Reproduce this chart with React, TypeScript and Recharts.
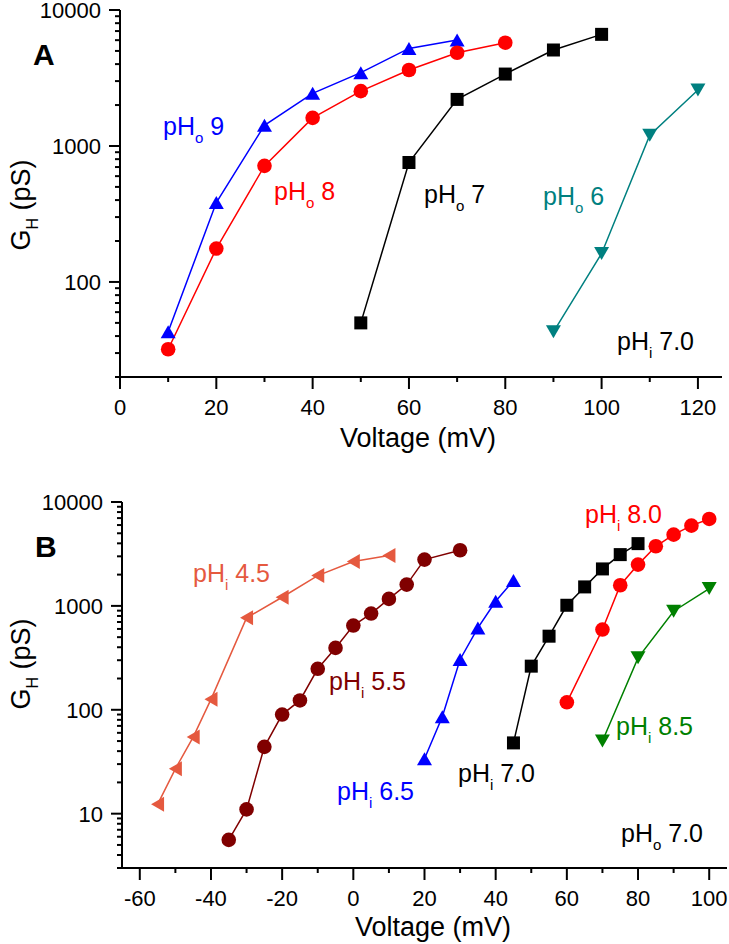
import React from "react";
import { LineChart, Line, XAxis, YAxis } from "recharts";

// Panel A: pHi 7.0, varying pHo
const voltsO9 = [10, 20, 30, 40, 50, 60, 70];
const gO9 = [43, 384, 1420, 2440, 3460, 5220, 6010];
const voltsO8 = [10, 20, 30, 40, 50, 60, 70, 80];
const gO8 = [32, 176, 714, 1610, 2530, 3620, 4850, 5750];
const voltsO7 = [50, 60, 70, 80, 90, 100];
const gO7 = [50, 756, 2200, 3380, 5080, 6620];
const voltsO6 = [90, 100, 110, 120];
const gO6 = [43, 162, 1200, 2580];

// Panel B: pHo 7.0, varying pHi
const voltsI45 = [-55, -50, -45, -40, -30, -20, -10, 0, 10];
const gI45 = [12.3, 27, 54.6, 126, 767, 1211, 1957, 2669, 3048];
const voltsI55 = [-35, -30, -25, -20, -15, -10, -5, 0, 5, 10, 15, 20, 30];
const gI55 = [5.6, 11, 44, 90, 123, 248, 394, 647, 844, 1167, 1603, 2790, 3430];
const voltsI65 = [20, 25, 30, 35, 40, 45];
const gI65 = [33.8, 85.6, 305, 614, 1109, 1753];
const voltsI70 = [45, 50, 55, 60, 65, 70, 75, 80];
const gI70 = [48, 263, 511, 1014, 1523, 2269, 3116, 3975];
const voltsI80 = [60, 70, 75, 80, 85, 90, 95, 100];
const gI80 = [118, 592, 1580, 2497, 3750, 4850, 5920, 6870];
const voltsI85 = [70, 80, 90, 100];
const gI85 = [50, 316, 889, 1468];

// axis ticks
const xTicksA = [0, 10, 20, 30, 40, 50, 60, 70, 80, 90, 100, 110, 120];
const xMajorA = [0, 20, 40, 60, 80, 100, 120];
const xTicksB = [-60, -50, -40, -30, -20, -10, 0, 10, 20, 30, 40, 50, 60, 70, 80, 90, 100];
const xMajorB = [-60, -40, -20, 0, 20, 40, 60, 80, 100];
const yTicksA = [20, 30, 40, 50, 60, 70, 80, 90, 100, 200, 300, 400, 500, 600, 700, 800, 900, 1000, 2000, 3000, 4000, 5000, 6000, 7000, 8000, 9000, 10000];
const yMajorA = [100, 1000, 10000];
const yTicksB = [3, 4, 5, 6, 7, 8, 9, 10, 20, 30, 40, 50, 60, 70, 80, 90, 100, 200, 300, 400, 500, 600, 700, 800, 900, 1000, 2000, 3000, 4000, 5000, 6000, 7000, 8000, 9000, 10000];
const yMajorB = [10, 100, 1000, 10000];

const FONT = "'Liberation Sans', Arial, Helvetica, sans-serif";

const toRows = (xs: number[], ys: number[]) => xs.map((v, i) => ({ v, g: ys[i] }));

type Shape = "circle" | "square" | "up" | "down" | "left";

function Marker({ cx, cy, shape, color }: { cx: number; cy: number; shape: Shape; color: string }) {
    if (cx == null || cy == null) return null;
    const s = 15;
    const h = 13;
    if (shape === "circle") return <circle cx={cx} cy={cy} r={7.3} fill={color} />;
    if (shape === "square") return <rect x={cx - 6.5} y={cy - 6.5} width={13} height={13} fill={color} />;
    let pts = "";
    if (shape === "up") pts = `${cx},${cy - h / 2} ${cx - s / 2},${cy + h / 2} ${cx + s / 2},${cy + h / 2}`;
    if (shape === "down") pts = `${cx},${cy + h / 2} ${cx - s / 2},${cy - h / 2} ${cx + s / 2},${cy - h / 2}`;
    if (shape === "left") pts = `${cx - h / 2},${cy} ${cx + h / 2},${cy - s / 2} ${cx + h / 2},${cy + s / 2}`;
    return <polygon points={pts} fill={color} />;
}

function makeYTick(majors: number[]) {
    return (props: any) => {
        const { x, y, payload } = props;
        const major = majors.includes(payload.value);
        return (
            <g>
                <line x1={x - (major ? 11 : 5)} x2={x} y1={y} y2={y} stroke="#000" strokeWidth={2} />
                {major && (
                    <text x={x - 19} y={y + 8} textAnchor="end" fontSize={22} fontFamily={FONT} fill="#000">
                        {payload.value}
                    </text>
                )}
            </g>
        );
    };
}

function makeXTick(majors: number[]) {
    return (props: any) => {
        const { x, y, payload } = props;
        const major = majors.includes(payload.value);
        return (
            <g>
                <line x1={x} x2={x} y1={y} y2={y + (major ? 12 : 5)} stroke="#000" strokeWidth={2} />
                {major && (
                    <text x={x} y={y + 38} textAnchor="middle" fontSize={22} fontFamily={FONT} fill="#000">
                        {payload.value}
                    </text>
                )}
            </g>
        );
    };
}

function series(xs: number[], ys: number[], color: string, shape: Shape, name: string) {
    return (
        <Line
            key={name}
            name={name}
            data={toRows(xs, ys)}
            dataKey="g"
            stroke={color}
            strokeWidth={1.5}
            isAnimationActive={false}
            dot={(p: any) => <Marker key={`${name}-${p.index}`} cx={p.cx} cy={p.cy} shape={shape} color={color} />}
        />
    );
}

function Note({ x, y, main, sub, rest, color, size = 25 }: { x: number; y: number; main: string; sub: string; rest: string; color: string; size?: number }) {
    return (
        <text x={x} y={y} fill={color} fontSize={size} fontFamily={FONT} style={{ whiteSpace: "pre" }}>
            {main}
            <tspan dy={8} fontSize={size * 0.6}>{sub}</tspan>
            <tspan dy={-8}>{rest}</tspan>
        </text>
    );
}

const axisStyle = { stroke: "#000", strokeWidth: 2 };

export default function App() {
    return (
        <div style={{ position: "absolute", left: 0, top: 0, width: 729, height: 944, background: "#fff", overflow: "hidden" }}>
            <div style={{ position: "absolute", left: 0, top: 0 }}>
                <LineChart width={729} height={460} margin={{ top: 10, right: 7, bottom: 0, left: 0 }}>
                    <XAxis
                        dataKey="v"
                        type="number"
                        domain={[0, 125]}
                        ticks={xTicksA}
                        interval={0}
                        height={83}
                        axisLine={axisStyle}
                        tickLine={false}
                        tickSize={0}
                        tickMargin={0}
                        tick={makeXTick(xMajorA)}
                        allowDataOverflow
                    />
                    <YAxis
                        type="number"
                        scale="log"
                        domain={[20, 10000]}
                        ticks={yTicksA}
                        interval={0}
                        width={120}
                        axisLine={axisStyle}
                        tickLine={false}
                        tickSize={0}
                        tickMargin={0}
                        tick={makeYTick(yMajorA)}
                        allowDataOverflow
                    />
                    {series(voltsO9, gO9, "#0000ff", "up", "pHo9")}
                    {series(voltsO8, gO8, "#ff0000", "circle", "pHo8")}
                    {series(voltsO7, gO7, "#000000", "square", "pHo7")}
                    {series(voltsO6, gO6, "#008080", "down", "pHo6")}
                </LineChart>
            </div>
            <div style={{ position: "absolute", left: 0, top: 460 }}>
                <LineChart width={729} height={484} margin={{ top: 42, right: 2, bottom: 0, left: 0 }}>
                    <XAxis
                        dataKey="v"
                        type="number"
                        domain={[-65, 105]}
                        ticks={xTicksB}
                        interval={0}
                        height={76}
                        axisLine={axisStyle}
                        tickLine={false}
                        tickSize={0}
                        tickMargin={0}
                        tick={makeXTick(xMajorB)}
                        allowDataOverflow
                    />
                    <YAxis
                        type="number"
                        scale="log"
                        domain={[3, 10000]}
                        ticks={yTicksB}
                        interval={0}
                        width={122}
                        axisLine={axisStyle}
                        tickLine={false}
                        tickSize={0}
                        tickMargin={0}
                        tick={makeYTick(yMajorB)}
                        allowDataOverflow
                    />
                    {series(voltsI45, gI45, "#e5593f", "left", "pHi45")}
                    {series(voltsI55, gI55, "#800000", "circle", "pHi55")}
                    {series(voltsI65, gI65, "#0000ff", "up", "pHi65")}
                    {series(voltsI70, gI70, "#000000", "square", "pHi70")}
                    {series(voltsI80, gI80, "#ff0000", "circle", "pHi80")}
                    {series(voltsI85, gI85, "#008000", "down", "pHi85")}
                </LineChart>
            </div>
            <svg width={729} height={944} style={{ position: "absolute", left: 0, top: 0, pointerEvents: "none" }}>
                {/* panel A */}
                <text x={33} y={65} fontSize={30} fontWeight="bold" fontFamily={FONT}>A</text>
                <Note x={163} y={135} main="pH" sub="o" rest=" 9" color="#0000ff" />
                <Note x={274} y={200} main="pH" sub="o" rest=" 8" color="#ff0000" />
                <Note x={424} y={203} main="pH" sub="o" rest=" 7" color="#000000" />
                <Note x={543} y={205} main="pH" sub="o" rest=" 6" color="#008080" />
                <Note x={617} y={350} main="pH" sub="i" rest=" 7.0" color="#000000" />
                <text x={418} y={447} textAnchor="middle" fontSize={27} fontFamily={FONT}>Voltage (mV)</text>
                <text transform="translate(30,205) rotate(-90)" textAnchor="middle" fontSize={27} fontFamily={FONT} style={{ whiteSpace: "pre" }}>
                    G<tspan dy={8} fontSize={16}>H</tspan><tspan dy={-8}> (pS)</tspan>
                </text>
                {/* panel B */}
                <text x={35} y={557} fontSize={30} fontWeight="bold" fontFamily={FONT}>B</text>
                <Note x={193} y={582} main="pH" sub="i" rest=" 4.5" color="#e5593f" />
                <Note x={329} y={690} main="pH" sub="i" rest=" 5.5" color="#800000" />
                <Note x={337} y={800} main="pH" sub="i" rest=" 6.5" color="#0000ff" />
                <Note x={458} y={782} main="pH" sub="i" rest=" 7.0" color="#000000" />
                <Note x={585} y={523} main="pH" sub="i" rest=" 8.0" color="#ff0000" />
                <Note x={616} y={735} main="pH" sub="i" rest=" 8.5" color="#008000" />
                <Note x={621} y={842} main="pH" sub="o" rest=" 7.0" color="#000000" />
                <text x={433} y={936} textAnchor="middle" fontSize={27} fontFamily={FONT}>Voltage (mV)</text>
                <text transform="translate(30,664) rotate(-90)" textAnchor="middle" fontSize={27} fontFamily={FONT} style={{ whiteSpace: "pre" }}>
                    G<tspan dy={8} fontSize={16}>H</tspan><tspan dy={-8}> (pS)</tspan>
                </text>
            </svg>
        </div>
    );
}
